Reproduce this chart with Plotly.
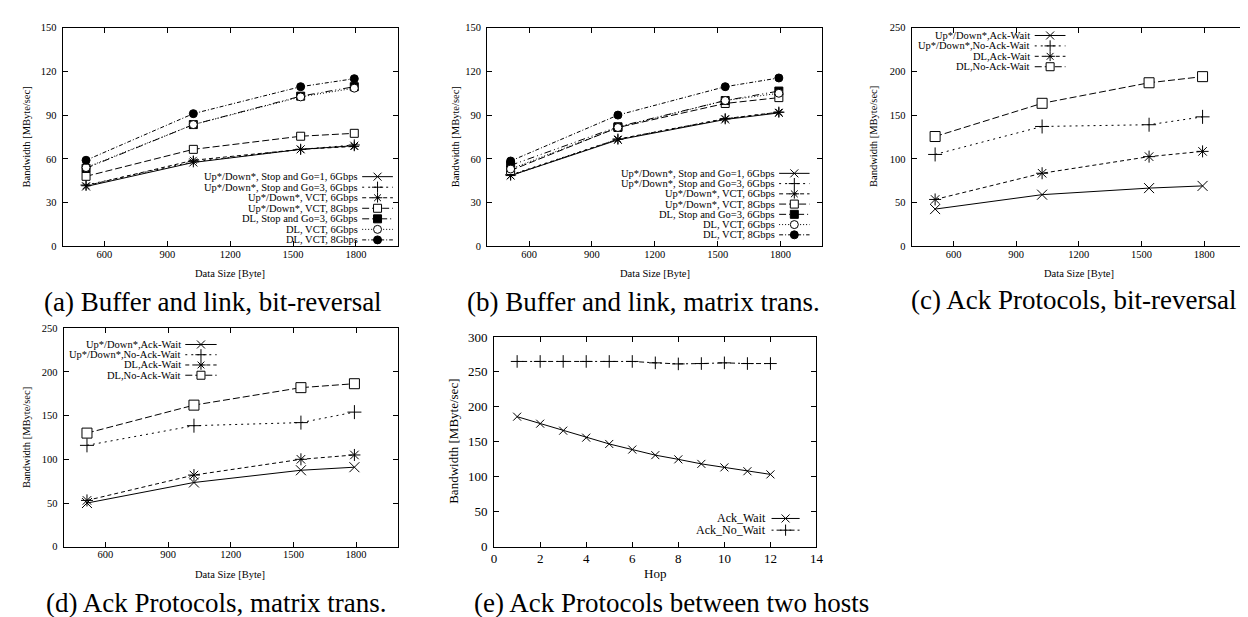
import plotly.graph_objects as go

# ---------------- data ----------------
sizes = [512, 1024, 1536, 1792]

a_labels = ["Up*/Down*, Stop and Go=1, 6Gbps", "Up*/Down*, Stop and Go=3, 6Gbps",
            "Up*/Down*, VCT, 6Gbps", "Up*/Down*, VCT, 8Gbps",
            "DL, Stop and Go=3, 6Gbps", "DL, VCT, 6Gbps", "DL, VCT, 8Gbps"]
a_ud_sg1 = [41, 57.5, 66.5, 69]
a_ud_sg3 = [42, 58, 66.5, 69.5]
a_ud_vct6 = [41.5, 59, 66.5, 68.5]
a_ud_vct8 = [48, 66.5, 75.5, 77.5]
a_dl_sg3 = [53.5, 83.5, 103, 109.5]
a_dl_vct6 = [54, 83.5, 102.5, 108.5]
a_dl_vct8 = [59, 91, 109.5, 115]

b_ud_sg1 = [48.5, 73, 87, 91.5]
b_ud_sg3 = [49, 73.5, 87.5, 92]
b_ud_vct6 = [48.5, 73.5, 87.5, 92]
b_ud_vct8 = [52, 81.5, 98, 102]
b_dl_sg3 = [55.5, 82, 100, 106.5]
b_dl_vct6 = [53, 81.5, 100, 105]
b_dl_vct8 = [58.5, 90, 109.5, 115.5]

c_labels = ["Up*/Down*,Ack-Wait", "Up*/Down*,No-Ack-Wait", "DL,Ack-Wait", "DL,No-Ack-Wait"]
c_ud_aw = [42.5, 59, 66.5, 69]
c_ud_naw = [105, 137, 139, 148]
c_dl_aw = [53.5, 83.5, 102.5, 108.5]
c_dl_naw = [125.5, 163.5, 187, 194]

d_ud_aw = [50, 73.5, 87.5, 91]
d_ud_naw = [116, 138.5, 142, 154]
d_dl_aw = [53, 82, 100, 105]
d_dl_naw = [130, 162, 182, 186.5]

hops = [1, 2, 3, 4, 5, 6, 7, 8, 9, 10, 11, 12]
e_labels = ["Ack_Wait", "Ack_No_Wait"]
e_ack_wait = [186, 176, 166, 156, 147, 139, 131, 125, 118.5, 113.5, 108, 103.5]
e_ack_no_wait = [265, 265, 265, 265, 265, 265, 263, 261.5, 262, 263, 262, 262]

captions = ["(a) Buffer and link, bit-reversal", "(b) Buffer and link, matrix trans.",
            "(c) Ack Protocols, bit-reversal", "(d) Ack Protocols, matrix trans.",
            "(e) Ack Protocols between two hosts"]

# ---------------- styles ----------------
W, H = 1248, 617
FONT = "Liberation Serif"

SOLID = "solid"
DOTS = "2px,4px"
DASH = "4px,3px"
LDASH = "7px,3px"
DASHDOTS = "7px,3px,1px,3px,1px,3px"
FINEDOT = "1px,2px"
DASHDOT = "4px,2px,1px,2px"
DOTDASH = "2px,3px,5px,3px"

# (symbol, fill, size, dash)
st7 = [("x-thin", "black", 8, SOLID), ("cross-thin", "black", 8, DOTS),
       ("asterisk", "black", 8, DASH), ("square", "white", 8, LDASH),
       ("square", "black", 8, DASHDOTS), ("circle", "white", 8, FINEDOT),
       ("circle", "black", 8, DASHDOT)]
st4 = [("x-thin", "black", 10, SOLID), ("cross-thin", "black", 10, DOTS),
       ("asterisk", "black", 10, DASH), ("square", "white", 10, LDASH)]
st2 = [("x-thin", "black", 8, SOLID), ("cross-thin", "black", 9, DOTDASH)]


def xd(p0, p1):
    return [p0 / W, p1 / W]


def yd(top, bot):
    return [1 - bot / H, 1 - top / H]


fig = go.Figure()

panels = [
    # id, x px, y px, x range, y range, x dtick, y dtick, font, legend font, series, styles, labels, legend
    ("", (52, 390), (13, 237), [400, 2000], [0, 150], 300, 30, 10.5, 10.5, sizes,
     [a_ud_sg1, a_ud_sg3, a_ud_vct6, a_ud_vct8, a_dl_sg3, a_dl_vct6, a_dl_vct8], st7, a_labels,
     (350.7, 165.7, 10.8, 354, 385)),
    ("2", (480, 818), (13, 237), [400, 2000], [0, 150], 300, 30, 10.5, 10.5, sizes,
     [b_ud_sg1, b_ud_sg3, b_ud_vct6, b_ud_vct8, b_dl_sg3, b_dl_vct6, b_dl_vct8], st7, a_labels,
     (771, 162.3, 10.5, 774.3, 805)),
    ("3", (908, 1245), (13, 237), [400, 2000], [0, 250], 300, 50, 10.5, 10.5, sizes,
     [c_ud_aw, c_ud_naw, c_dl_aw, c_dl_naw], st4, c_labels,
     (1028, 21, 10.67, 1032, 1063)),
    ("4", (53, 390), (321, 545), [400, 2000], [0, 250], 300, 50, 10.5, 10.5, sizes,
     [d_ud_aw, d_ud_naw, d_dl_aw, d_dl_naw], st4, c_labels,
     (172.3, 337.7, 10.5, 175.7, 207.3)),
    ("5", (487, 812), (330, 545), [0, 14], [0, 300], 2, 50, 13, 12, hops,
     [e_ack_wait, e_ack_no_wait], st2, e_labels,
     (761.7, 516, 12, 766.7, 795)),
]

layout = dict(width=W, height=H, margin=dict(l=0, r=0, t=0, b=0),
              paper_bgcolor="white", plot_bgcolor="rgba(0,0,0,0)",
              showlegend=False, font=dict(family=FONT, color="black"))
annotations = []

for pid, xp, yp, xr, yr, xdt, ydt, fs, lfs, xs, series, styles, labels, leg in panels:
    xa = "xaxis" + pid
    ya = "yaxis" + pid
    common = dict(showline=True, linecolor="black", linewidth=1, mirror="ticks",
                  ticks="inside", ticklen=5, tickwidth=1, tickcolor="black",
                  showgrid=False, zeroline=False, fixedrange=True,
                  tickfont=dict(family=FONT, size=fs, color="black"))
    layout[xa] = dict(domain=xd(*xp), range=xr, tick0=0, dtick=xdt,
                      anchor="y" + pid, ticklabelstandoff=-2 if fs < 12 else 0, **common)
    layout[ya] = dict(domain=yd(*yp), range=yr, tick0=0, dtick=ydt,
                      anchor="x" + pid, ticklabelstandoff=3, **common)
    for vals, (sym, fill, sz, dash) in zip(series, styles):
        fig.add_trace(go.Scatter(
            x=xs, y=vals, mode="lines+markers", xaxis="x" + pid, yaxis="y" + pid,
            line=dict(color="black", width=1, dash=dash),
            marker=dict(symbol=sym, size=sz, color=fill, line=dict(color="black", width=1)),
            cliponaxis=False, hoverinfo="skip"))
    # legend (gnuplot style: text right-aligned, key to the right)
    tx, ty0, dy, kx0, kx1 = leg
    for i, (lab, (sym, fill, sz, dash)) in enumerate(zip(labels, styles)):
        yy = ty0 + i * dy
        annotations.append(dict(text=lab, xref="paper", yref="paper", x=tx / W, y=1 - yy / H,
                                xanchor="right", yanchor="middle", showarrow=False,
                                borderpad=0,
                                font=dict(family=FONT, size=lfs, color="black")))
        fig.add_trace(go.Scatter(x=[kx0, kx1], y=[yy, yy], mode="lines", xaxis="x6", yaxis="y6",
                                 line=dict(color="black", width=1, dash=dash), hoverinfo="skip"))
        fig.add_trace(go.Scatter(x=[(kx0 + kx1) / 2], y=[yy], mode="markers", xaxis="x6", yaxis="y6",
                                 marker=dict(symbol=sym, size=min(sz, 8), color=fill,
                                             line=dict(color="black", width=1)), hoverinfo="skip"))

layout["xaxis6"] = dict(domain=[0, 1], range=[0, W], visible=False, fixedrange=True, anchor="y6")
layout["yaxis6"] = dict(domain=[0, 1], range=[H, 0], visible=False, fixedrange=True, anchor="x6")

# axis titles
def ann(text, xpx, ypx, size, angle=0, xanchor="center"):
    annotations.append(dict(text=text, xref="paper", yref="paper", x=xpx / W, y=1 - ypx / H,
                            xanchor=xanchor, yanchor="middle", showarrow=False, textangle=angle,
                            borderpad=0,
                            font=dict(family=FONT, size=size, color="black")))

bw = "Bandwidth [MByte/sec]"
ds = "Data Size [Byte]"
ann(bw, 15.7, 125, 10.5, -90)
ann(ds, 221, 265, 10.5)
ann(bw, 449, 125, 10.5, -90)
ann(ds, 649, 265, 10.5)
ann(bw, 870, 125, 10.5, -90)
ann(ds, 1077, 265, 10.5)
ann(bw, 15.7, 433, 10.5, -90)
ann(ds, 221, 573, 10.5)
ann(bw, 446, 437, 13, -90)
ann("Hop", 649, 572, 13)

# captions
cap_pos = [(32, 294), (459, 294), (906, 292), (34, 603), (466, 603)]
for cap, (cx, cy) in zip(captions, cap_pos):
    ann(cap, cx, cy, 27, 0, "left")

layout["annotations"] = annotations
fig.update_layout(**layout)
fig.write_html("out.html")
